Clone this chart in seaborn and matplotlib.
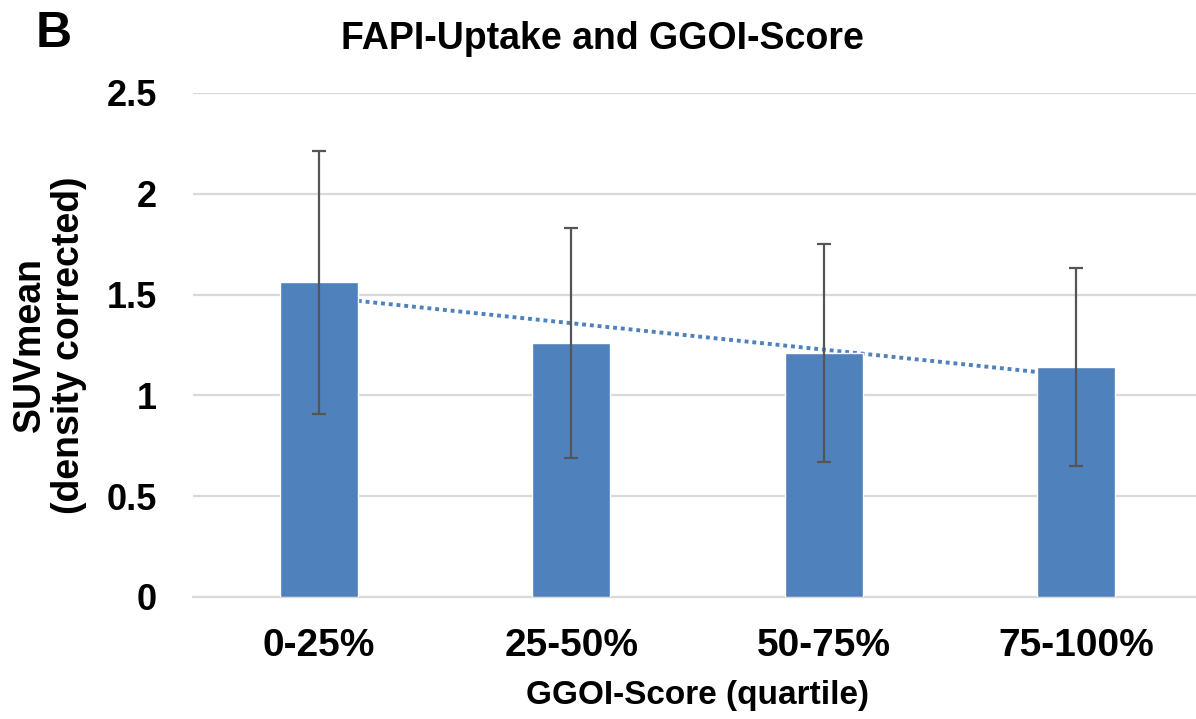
"""FAPI uptake vs GGOI-score quartile: bar chart with SD error bars and linear trend."""

import numpy as np
import pandas as pd
import matplotlib
matplotlib.use("Agg")
import matplotlib.pyplot as plt
import seaborn as sns

# values
quartiles = ["0-25%", "25-50%", "50-75%", "75-100%"]
suv_mean = [1.56, 1.26, 1.21, 1.14]
suv_sd = [0.65, 0.57, 0.54, 0.49]

df = pd.DataFrame({"quartile": quartiles, "suv": suv_mean, "sd": suv_sd})

sns.set_theme(style="white")
plt.rcParams["font.family"] = ["Liberation Sans", "DejaVu Sans"]
plt.rcParams["font.weight"] = "bold"
plt.rcParams["text.color"] = "black"
plt.rcParams["axes.labelcolor"] = "black"
plt.rcParams["xtick.color"] = "black"
plt.rcParams["ytick.color"] = "black"

BAR = "#4F81BD"
GRID = "#D9D9D9"

fig = plt.figure(figsize=(11.96, 7.19), dpi=100)
ax = fig.add_axes([0.1614, 0.1697, 0.8436, 0.701])

sns.barplot(data=df, x="quartile", y="suv", color=BAR, saturation=1,
            width=0.31, errorbar=None, ax=ax, zorder=3)

xpos = np.arange(len(quartiles))
ax.errorbar(xpos, df["suv"], yerr=df["sd"], fmt="none", ecolor="#555555",
            elinewidth=1.6, capsize=5, capthick=1.6, zorder=4)

# linear trendline (Excel style), drawn behind the bars
slope, icpt = np.polyfit(xpos, df["suv"], 1)
ax.plot(xpos, icpt + slope * xpos, color=BAR, lw=2.8, ls=(0, (1, 1)), zorder=2)

ax.set_xlim(-0.5, 3.5)
ax.set_ylim(0, 2.5)
ax.set_yticks([0, 0.5, 1, 1.5, 2, 2.5])
ax.set_yticklabels(["0", "0.5", "1", "1.5", "2", "2.5"])
ax.yaxis.grid(True, color=GRID, lw=1.6, zorder=0)
ax.set_axisbelow(True)
for s in ["top", "right", "left"]:
    ax.spines[s].set_visible(False)
ax.spines["bottom"].set_color(GRID)
ax.spines["bottom"].set_linewidth(1.6)
ax.tick_params(axis="both", length=0)
ax.tick_params(axis="y", labelsize=26, pad=26)
ax.tick_params(axis="x", labelsize=28, pad=22)
for lab in ax.get_xticklabels() + ax.get_yticklabels():
    lab.set_fontweight("bold")

ax.set_xlabel("GGOI-Score (quartile)", fontsize=24, fontweight="bold", labelpad=12)
ax.set_ylabel("SUVmean\n(density corrected)", fontsize=27, fontweight="bold",
              linespacing=1.1)
ax.yaxis.set_label_coords(-0.105, 0.5)

fig.text(0.504, 0.946, "FAPI-Uptake and GGOI-Score", fontsize=27,
         fontweight="bold", ha="center", va="center")
fig.text(0.030, 0.953, "B", fontsize=36, fontweight="bold", ha="left", va="center")

fig.savefig("out.png", dpi=100)
plt.close(fig)
